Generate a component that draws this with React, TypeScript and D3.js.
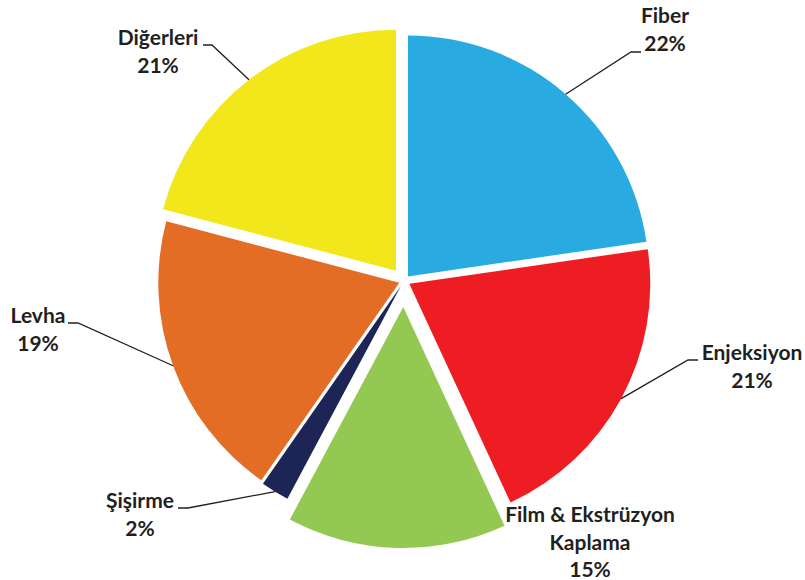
import React from "react";
import * as d3 from "d3";

const categories = ["Fiber", "Enjeksiyon", "Film & Ekstrüzyon Kaplama", "Şişirme", "Levha", "Diğerleri"];
const values = [22.7, 20.4, 14.7, 1.9, 19.4, 20.9];
const percentLabels = ["22%", "21%", "15%", "2%", "19%", "21%"];
const labelLines = [["Fiber", "22%"], ["Enjeksiyon", "21%"], ["Film & Ekstrüzyon", "Kaplama", "15%"], ["Şişirme", "2%"], ["Levha", "19%"], ["Diğerleri", "21%"]];
const colors = ["#29ABE2", "#EE1D23", "#93C952", "#1C2556", "#E36D25", "#F1E71A"];

const W = 805, H = 580;
const CX = 404, CY = 281, R = 241;
const explode = [6, 6, 26, 6, 5, 13];
// label layout: center x, first baseline, elbow (horizontal segment) [x1,x2,y] or null
const labelLayout = [
  { x: 665, y: 23, elbow: [641, 631, 52] },
  { x: 752, y: 360, elbow: [698, 688, 360] },
  { x: 590, y: 522, elbow: null },
  { x: 140, y: 508, elbow: [178, 188, 508] },
  { x: 38, y: 323, elbow: [68, 78, 323] },
  { x: 158, y: 45, elbow: [203, 212, 45] },
];

export default function App() {
  const pie = d3.pie<number>().sort(null).value((d) => d).startAngle(0).endAngle(2 * Math.PI);
  const arcs = pie(values);
  const arcGen = d3.arc<d3.PieArcDatum<number>>().innerRadius(0).outerRadius(R);
  return (
    <svg width={W} height={H} style={{ position: "absolute", left: 0, top: 0, background: "#fff" }}>
      {arcs.map((a, i) => {
        const mid = (a.startAngle + a.endAngle) / 2;
        const ox = Math.sin(mid) * explode[i];
        const oy = -Math.cos(mid) * explode[i];
        return (
          <path key={i} d={arcGen(a) || ""} fill={colors[i]} transform={`translate(${CX + ox},${CY + oy})`} />
        );
      })}
      {arcs.map((a, i) => {
        const L = labelLayout[i];
        if (!L.elbow) return null;
        const mid = (a.startAngle + a.endAngle) / 2;
        const px = CX + Math.sin(mid) * (R + explode[i]);
        const py = CY - Math.cos(mid) * (R + explode[i]);
        const [x1, x2, y] = L.elbow;
        return (
          <polyline key={"l" + i} points={`${px},${py} ${x2},${y} ${x1},${y}`} fill="none" stroke="#231F20" strokeWidth={1.3} />
        );
      })}
      {labelLines.map((lines, i) => {
        const L = labelLayout[i];
        return (
          <text key={"t" + i} x={L.x} y={L.y} textAnchor="middle" fontFamily="Lato, sans-serif" fontWeight="bold" fontSize={21} fill="#231F20">
            {lines.map((s, j) => (
              <tspan key={j} x={L.x} dy={j === 0 ? 0 : 27.5}>{s}</tspan>
            ))}
          </text>
        );
      })}
    </svg>
  );
}
